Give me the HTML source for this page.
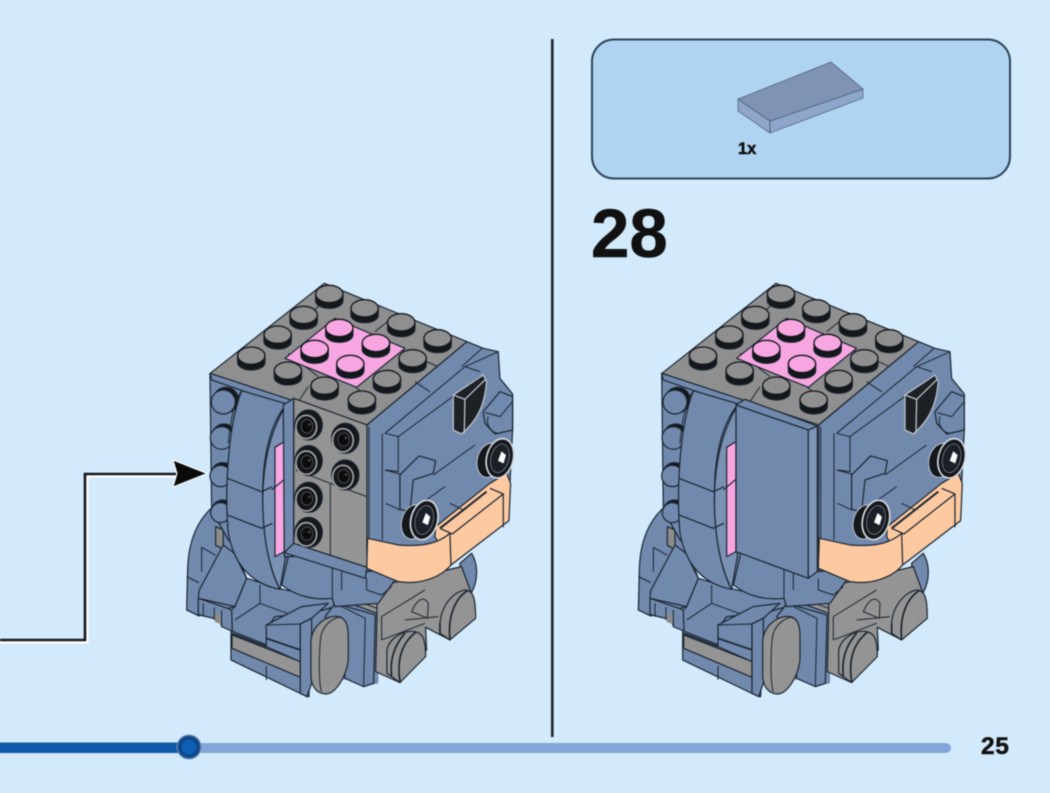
<!DOCTYPE html>
<html><head><meta charset="utf-8"><style>
html,body{margin:0;padding:0;background:#d3eafc}
svg{display:block}
text{font-family:"Liberation Sans",sans-serif;font-weight:bold;fill:#111;stroke:#111;stroke-width:.5}
.soft{filter:blur(.45px)}
</style></head><body>
<svg width="1050" height="793" viewBox="0 0 1050 793" xmlns="http://www.w3.org/2000/svg">
<defs>
<g id="stud"><path d="M-41,0 V20 C-41,34 -20,43 0,43 C22,43 41,34 41,20 V0 Z" fill="#14171b"/><ellipse rx="41" ry="26" fill="#8f8f8f" stroke="#14171b" stroke-width="4"/></g>
<g id="pstud"><path d="M-41,0 V20 C-41,34 -20,43 0,43 C22,43 41,34 41,20 V0 Z" fill="#14171b"/><ellipse rx="41" ry="26" fill="#f7a6e2" stroke="#14171b" stroke-width="4"/></g>
<g id="sock"><ellipse rx="41" ry="45" fill="#14171b"/><ellipse cx="-7" cy="6" rx="31" ry="35" fill="#14171b" stroke="#a4a4a4" stroke-width="5"/><ellipse cx="-5" cy="4" rx="17" ry="20" fill="#0c0c0c" stroke="#4c4c4c" stroke-width="3"/><ellipse cx="2" cy="-1" rx="4" ry="3" fill="#bbb"/></g>
<g id="eye"><ellipse cx="-32" cy="6" rx="36" ry="52" transform="rotate(14 -32 6)" fill="#14171b" stroke="#bfc7cf" stroke-width="3"/><ellipse rx="40" ry="60" transform="rotate(14)" fill="#14171b" stroke="#d5dbe0" stroke-width="5"/><ellipse rx="27" ry="44" transform="rotate(14)" fill="#1b2027" stroke="#8a929a" stroke-width="2"/><path d="M4,-24 L20,-10 L12,18 L-8,8 Z" fill="#fff"/></g>
<g id="base" stroke="#1a2530" stroke-width="3.6" stroke-linejoin="round" fill="#7189ad">
 <!-- back hood -->
 <path d="M102,712 C60,750 30,810 28,900 L25,1020 L62,1038 L170,1010 L205,925 L150,780 Z"/>
 <path d="M25,920 L62,938 M70,832 L70,905 M70,832 L112,856" fill="none" stroke-width="3"/>
 <path d="M112,770 L135,780 L135,838 L112,826 Z" fill="#8c8c8c"/>
 <!-- backing blue -->
 <path d="M160,1020 L320,960 L600,950 L600,1240 L556,1250 L505,1228 L400,1240 L386,1280 L158,1170 L158,1082 Z" stroke="none"/>
 <!-- lower left strip -->
 <path d="M60,985 L168,1022 L165,1085 L130,1070 L125,1050 L60,1034 Z"/>
 <path d="M75,1000 L75,1040 M108,1012 L108,1050 M130,1020 L130,1066" fill="none" stroke-width="3"/>
 <path d="M110,1030 L128,1036 L128,1062 L110,1056Z" fill="#8c8c8c" stroke="none"/>
 <!-- wedge -->
 <path d="M135,825 L168,850 L205,925 L170,1010 L60,985 L62,962 Z"/>
 <!-- chest -->
 <path d="M205,925 L320,960 L462,985 L470,1010 L400,1030 L290,1040 L265,1075 L265,1125 L162,1085 L160,1020 L170,1010 Z"/>
 <path d="M245,945 L245,1000 L170,1050 M245,1000 L340,1035" fill="none" stroke-width="3"/>
 <!-- left foot block -->
 <path d="M158,1082 L264,1125 L395,1180 L392,1280 L386,1280 L158,1170 Z"/>
 <path d="M161,1095 L366,1175 L366,1222 L161,1135 Z" fill="#949494"/>
 <path d="M264,1188 L264,1230" fill="none" stroke-width="3"/>
 <path d="M161,1090 L264,1130" fill="none" stroke-width="5"/>
 <path d="M264,1065 L370,1010 L450,1000 L400,1045 L366,1062 L366,1175 L264,1130 Z"/>
 <path d="M264,1065 L366,1062" fill="none" stroke-width="3"/>
 <path d="M264,1105 L366,1140" fill="none" stroke-width="5"/>
 <path d="M366,1062 L400,1045 L400,1240 L386,1280 L366,1270 Z"/>
 <!-- column -->
 <path d="M471,1000 L591,1035 L586,1240 L556,1250 L500,1225 L490,1100 L440,1040 Z"/>
 <path d="M561,1045 L556,1250 M471,1000 L561,1045" fill="none" stroke-width="3"/>
 <path d="M486,960 L600,1000 L596,1030 L475,985 Z" fill="#949494"/>
 <path d="M486,975 L596,1015" fill="none" stroke-width="3"/>
 <!-- right gray -->
 <path d="M845,880 L880,850 C898,880 902,925 880,968 L850,960 Z"/>
 <path d="M596,1040 L596,950 L850,890 L890,1000 L815,1110 L742,1072 L745,1140 L665,1238 L592,1205 Z" fill="#949494"/>
 <path d="M610,1040 L740,960 M610,1110 L740,1060 M610,1040 L610,1110 M700,1025 L748,1045 L750,1000 C735,975 715,990 700,1025 Z M680,1050 L780,1040" fill="none" stroke-width="3"/>
 <path d="M785,1060 C790,1000 830,965 860,960 C885,960 892,985 892,1045 L815,1110 L785,1090Z" fill="#949494"/>
 <path d="M815,1108 C808,1040 830,985 868,962 M785,1060 L785,1090" fill="none" stroke-width="5"/>
 <path d="M626,1140 C635,1100 680,1080 710,1085 C735,1090 742,1110 742,1160 L665,1238 L626,1210Z" fill="#949494"/>
 <path d="M665,1235 C655,1170 670,1120 712,1087 M640,1220 C635,1170 645,1130 680,1090" fill="none" stroke-width="5"/>
 <!-- pad -->
 <path d="M398,1110 C405,1060 450,1035 480,1040 C505,1045 510,1070 510,1100 L510,1170 C505,1220 470,1275 440,1272 C415,1270 400,1250 398,1220 Z" fill="#949494"/>
 <path d="M430,1265 C420,1240 422,1120 430,1090 C440,1060 470,1040 490,1042" fill="none" stroke-width="3"/>
 <!-- body under head -->
 <path d="M310,845 L310,945 C360,985 420,990 462,985 L470,1010 L600,1000 L650,930 L650,850 L565,900 Z"/>
 <path d="M462,890 L462,985 M490,900 L490,960 M565,925 L565,960 L610,975 L640,950" fill="none" stroke-width="3"/>
 <!-- head left side -->
 <path d="M95,310 L345,385 L330,860 L310,945 L150,810 L100,720 Z"/>
 <g><circle cx="143" cy="390" r="38" fill="#14171b"/><circle cx="135" cy="396" r="36"/><circle cx="137" cy="498" r="36" fill="#14171b"/><circle cx="130" cy="504" r="34"/><circle cx="133" cy="612" r="34" fill="#14171b"/><circle cx="127" cy="618" r="32"/><circle cx="133" cy="722" r="32" fill="#14171b"/><circle cx="127" cy="728" r="30"/></g>
 <path d="M95,310 L345,385 L345,405 L315,405 L100,330 Z" fill="#7189ad"/>
 <!-- crescent -->
 <path d="M190,362 L325,402 C285,450 262,520 255,620 C248,740 262,880 305,958 C235,945 170,900 150,790 C140,680 145,480 190,362 Z"/>
 <path d="M325,402 C285,470 262,540 255,640 C248,760 265,880 305,958 L322,860 L322,402 Z" fill="#7a91b4"/>
 <path d="M190,362 C165,400 155,460 150,520" fill="none" stroke-width="3"/>
 <path d="M147,625 L250,665 L282,650 M147,735 L250,775 L282,760" fill="none"/>
 <path d="M290,532 L318,515 L318,845 L290,860 Z" fill="#f7a6e2"/>
 <path d="M280,660 L318,628" fill="none"/>
 <!-- head top -->
 <path d="M438,40 L866,215 L566,465 L96,310 Z" fill="#8f8f8f"/>
 <path d="M330,250 L420,320 M430,100 L370,155 M590,185 L640,145 M360,395 L390,350 M530,350 L585,395 M670,240 L800,300" fill="none" stroke-width="3"/>
 <path d="M470,145 L680,235 L535,352 L320,265 Z" fill="#f7a6e2"/>
 <use href="#stud" x="453" y="72"/><use href="#stud" x="559" y="115"/><use href="#stud" x="669" y="157"/><use href="#stud" x="778" y="205"/>
 <use href="#stud" x="376" y="135"/><use href="#stud" x="298" y="194"/><use href="#stud" x="219" y="257"/><use href="#stud" x="329" y="302"/>
 <use href="#stud" x="439" y="347"/><use href="#stud" x="551" y="389"/><use href="#stud" x="626" y="327"/><use href="#stud" x="703" y="265"/>
 <use href="#pstud" x="483" y="174"/><use href="#pstud" x="593" y="219"/><use href="#pstud" x="409" y="237"/><use href="#pstud" x="516" y="282"/>
 <!-- head right side -->
 <path d="M566,465 L866,215 L915,235 L960,245 L965,325 L1003,372 L1003,480 L995,640 L815,880 L565,905 Z"/>
 <path d="M572,470 L572,905 M612,490 L612,810 M620,490 L660,500 L660,605 L622,600 M620,490 L860,290 L905,305 M660,500 L905,320 M710,335 L755,365 M850,290 L912,235 M860,290 L960,245 M620,600 L665,612 L665,720 L622,700" fill="none" stroke-width="3"/>
 <path d="M665,615 L722,558 L772,572 L765,610 L705,630 L695,725 L665,718 Z"/>
 <path d="M765,615 L890,525 M695,725 L800,650" fill="none" stroke-width="3"/>
 <path d="M915,425 L965,365 L1003,380 L1003,480 L950,492 L920,460 Z"/>
 <path d="M922,428 L965,440 L1003,395 M930,440 C920,470 945,490 960,490" fill="none" stroke-width="3"/>
 <path d="M825,375 L915,315 L925,335 C920,400 900,450 850,492 L825,480 Z" fill="#1d2126" stroke="#b9c0c7" stroke-width="4"/>
 <path d="M825,375 L860,388 L922,328 M860,388 L858,490" fill="none" stroke="#b9c0c7" stroke-width="4"/>
 <!-- peach -->
 <path d="M770,800 L772,770 L935,640 L985,610 L997,640 L992,752 L818,885 L770,800 Z" fill="#fcc9a0"/>
 <path d="M568,805 L660,825 C720,830 775,825 815,790 L818,885 C785,925 720,945 660,935 L565,895 Z" fill="#fcc9a0"/>
 <path d="M815,700 L855,720" fill="none" stroke-width="3"/>
 <path d="M785,775 L925,665" fill="none" stroke-width="6"/>
 <path d="M785,775 L822,792 L975,672 L935,655 M975,672 L975,772" fill="none"/>
 <use href="#eye" x="965" y="565"/><use href="#eye" x="738" y="750"/>
</g>
</defs>

<g class="soft">
<!-- divider -->
<rect x="551" y="39" width="2.6" height="698" fill="#1a2530"/>

<!-- panel -->
<rect x="592" y="39.5" width="418" height="139" rx="22" fill="#afd4f1" stroke="#2d4459" stroke-width="2"/>
<polygon points="738,99 770,121 770,133 738,111" fill="#8fa5c9" stroke="#3d4f68" stroke-width=".6"/>
<polygon points="770,121 863,89 863,98 770,133" fill="#8ea6cc" stroke="#3d4f68" stroke-width=".6"/>
<polygon points="738,99 831,62 863,89 770,121" fill="#7f93b5" stroke="#3d4f68" stroke-width=".6"/>
<text x="738" y="154" font-size="16.5">1x</text>
<text x="591" y="257" font-size="69">28</text>
<text x="981" y="754" font-size="24.5" letter-spacing=".6">25</text>

<!-- arrow -->
<path d="M0,642 H87 V476 H176" fill="none" stroke="#fff" stroke-width="3"/>
<path d="M0,640 H85 V474 H176" fill="none" stroke="#15181c" stroke-width="2.6"/>
<polygon points="173,460 207,473.5 173,487 177,473.5" fill="#0a0a0a" stroke="#fff" stroke-width="1"/>

<!-- left figure -->
<g transform="translate(178.3,270) scale(.3333)">
 <use href="#base"/>
 <g stroke="#1a2530" stroke-width="3.6" stroke-linejoin="round">
  <path d="M346,385 L566,465 L566,892 L346,820 Z" fill="#949494"/>
  <path d="M315,405 L346,385 L346,860 L318,860 Z" fill="#7189ad"/>
  <path d="M346,820 L318,848 L561,925 L566,892 Z" fill="#7189ad"/>
  <path d="M352,600 L456,640 L566,680 M456,640 L456,855" fill="none" stroke-width="3"/>
  <use href="#sock" x="391" y="465"/><use href="#sock" x="501" y="505"/><use href="#sock" x="391" y="572"/><use href="#sock" x="501" y="615"/><use href="#sock" x="391" y="682"/><use href="#sock" x="391" y="787"/>
 </g>
</g>

<!-- right figure -->
<g transform="translate(630,270) scale(.3333)">
 <use href="#base"/>
 <g stroke="#1a2530" stroke-width="3.6" stroke-linejoin="round" fill="#7189ad">
  <path d="M318,405 L535,480 L535,925 L318,845 Z"/>
  <path d="M535,480 L562,468 L562,905 L535,925 Z" fill="#7e95b8"/>
  <path d="M318,405 L345,388 L562,468 L535,480 Z"/>
 </g>
</g>

<!-- progress -->
<rect x="-10" y="743" width="961" height="10" rx="5" fill="#83a6da"/>
<rect x="-10" y="742.5" width="200" height="10.5" fill="#0f5aa8"/>
<circle cx="189" cy="747" r="12" fill="#1a4f8a" stroke="#6f95c8" stroke-width="1"/>
<circle cx="189" cy="747" r="8.5" fill="#0d5eb5" stroke="#0b3f7c" stroke-width="1.5"/>
</g>
</svg>
</body></html>
